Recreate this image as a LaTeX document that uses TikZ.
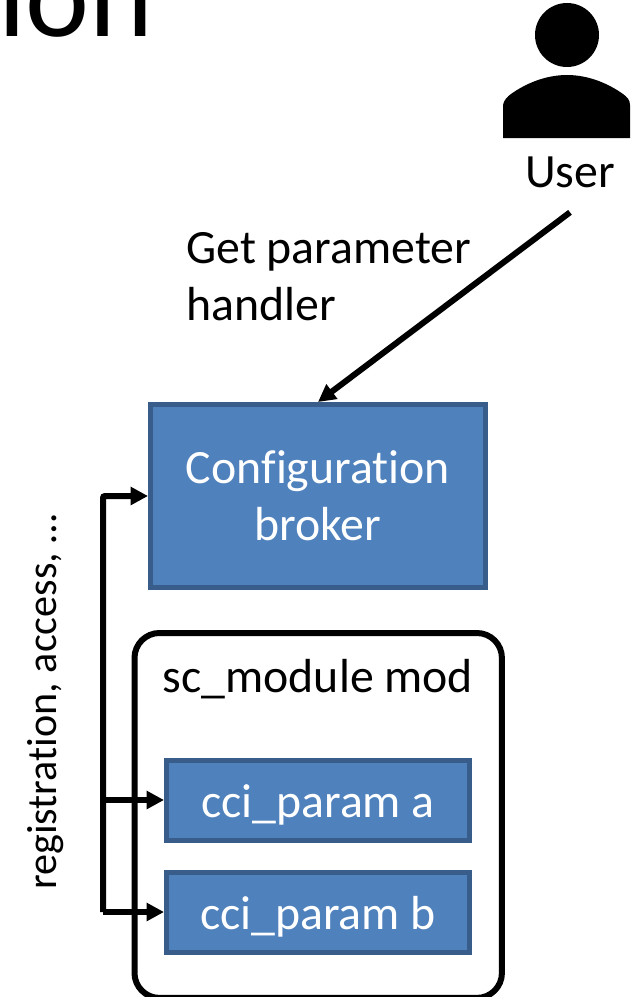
\documentclass[tikz,border=0pt]{standalone}
\usepackage{fontspec}
\setmainfont[Ligatures = NoCommon]{Carlito}
\usepackage{tikz}
\usetikzlibrary{arrows.meta, positioning}
\tikzstyle{arrow} = [line width = 0.12cm, -{Triangle[length = 0.35cm, width = 0.35cm]}]
\tikzstyle{bluebox} = [draw = boxedge, fill = boxfill, line width = 0.1cm, text = white, align = center, inner sep = 0, font = \fontsize{27.2}{32.5}\selectfont]
\tikzstyle{parambox} = [bluebox, minimum width = 6.06cm, minimum height = 1.6cm, text height = 0.76cm, text depth = 0.08cm]
\tikzstyle{plaintext} = [inner sep = 0, font = \fontsize{27.2}{32.5}\selectfont]
\definecolor{boxfill}{HTML}{4F81BD}
\definecolor{boxedge}{HTML}{385D8A}

\begin{document}
\begin{tikzpicture}[x = 0.02cm, y = -0.02cm]
    \clip (0, 0) rectangle (641, 997);
    \node[anchor = base east, inner sep = 0, font = \fontsize{69}{69}\selectfont] (title) at (154, 37) {tion};
    % person
    \fill (567, 35) ellipse [x radius = 32, y radius = 32];
    \fill (503, 138) -- (503, 105) .. controls (504, 100) and (507, 97) .. (511, 94) .. controls (525, 84) and (545, 75) .. (567, 75) .. controls (589, 75) and (609, 84) .. (623, 94) .. controls (627, 97) and (630, 100) .. (630, 105) -- (630, 138) -- cycle;
    \node[plaintext, minimum height = 1.6cm] (user) at (570, 172) {User};
    \node[plaintext, anchor = west, align = left] (gethandler) at (186, 277) {Get parameter\\handler};
    \node[bluebox, minimum width = 6.7cm, minimum height = 3.66cm] (broker) at (318, 496) {Configuration\\broker};
    \node[draw, line width = 0.12cm, outer sep = 0, rounded corners = 0.5cm, minimum width = 7.35cm, minimum height = 7.3cm, anchor = north west] (module) at (134.5, 633) {};
    \node[plaintext, anchor = base] (modname) at (318, 692) {sc\_module mod};
    \node[parambox] (parama) at (318, 800) {cci\_param a};
    \node[parambox] (paramb) at (318, 912) {cci\_param b};
    \node[plaintext, rotate = 90, anchor = base, font = \fontsize{24}{28}\selectfont] (access) at (56, 702) {registration, access, \dots};
    \coordinate (bustop) at (103, 496);
    \coordinate (busa) at (103, 800);
    \coordinate (busb) at (103, 912);
    \draw[arrow] (user.south) -- (broker.north);
    \draw[arrow] (busa) -- (parama.west);
    \draw[arrow] (busb) -- (paramb.west);
    \draw[arrow, rounded corners = 0.04cm] (busb) -- (bustop) -- (broker.west);
\end{tikzpicture}
\end{document}
